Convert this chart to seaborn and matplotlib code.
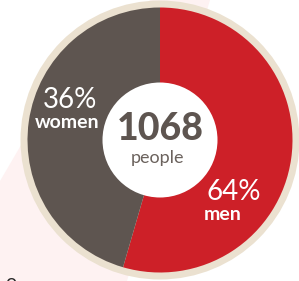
import matplotlib
matplotlib.use("Agg")
import matplotlib.pyplot as plt
import seaborn as sns
from matplotlib.patches import Circle, Polygon

# Datos
grupos = ["men", "women"]
porcentajes = ["64%", "36%"]          # texto de las etiquetas
angulo_dibujado = [54.5, 45.5]        # tamaño de las cuñas tal como se ven en el gráfico
total_personas = "1068"
colores = ["#cd2028", "#5e5550"]

sns.set_theme(style="white")
plt.rcParams["font.family"] = ["Lato", "DejaVu Sans"]

fig = plt.figure(figsize=(2.99, 2.81), dpi=100)
ax = fig.add_axes([0, 0, 1, 1])

# fondo rosado decorativo
ax.add_patch(Polygon([(0, 100), (24, 141), (150, 281), (210, 281), (127, 0), (0, 0)],
                     closed=True, facecolor="#fef2f2", edgecolor="none", zorder=0))

cx, cy = 160, 141
ax.add_patch(Circle((cx, cy), 139.5, facecolor="#ebe1d0", edgecolor="none", zorder=1))

wedges, _ = ax.pie(angulo_dibujado, colors=colores, startangle=90, counterclock=False,
                   center=(cx, cy), radius=132.5, frame=True,
                   wedgeprops=dict(linewidth=0))
for w in wedges:
    w.set_zorder(2)
ax.set_xlim(0, 299)
ax.set_ylim(0, 281)
ax.set_aspect("equal")
ax.axis("off")

ax.add_patch(Circle((cx, cy), 57.5, facecolor="white", edgecolor="none", zorder=3))

ax.text(160, 281 - 129, total_personas, ha="center", va="center", fontsize=27,
        fontweight="black", color="#5e5550", zorder=4)
ax.text(158, 281 - 158, "people", ha="center", va="center", fontsize=13,
        color="#6b625d", zorder=4)

ax.text(70, 281 - 100, porcentajes[1], ha="center", va="center", fontsize=20,
        color="white", zorder=4)
ax.text(67, 281 - 123, grupos[1], ha="center", va="center", fontsize=14,
        fontweight="bold", color="white", zorder=4)
ax.text(234, 281 - 192, porcentajes[0], ha="center", va="center", fontsize=20,
        color="white", zorder=4)
ax.text(223, 281 - 215, grupos[0], ha="center", va="center", fontsize=14,
        fontweight="bold", color="white", zorder=4)

ax.text(11, 281 - 274, "o", ha="center", va="top", fontsize=14, color="#2b2b2b", zorder=4)

fig.savefig("out.png", dpi=100, facecolor="white")
